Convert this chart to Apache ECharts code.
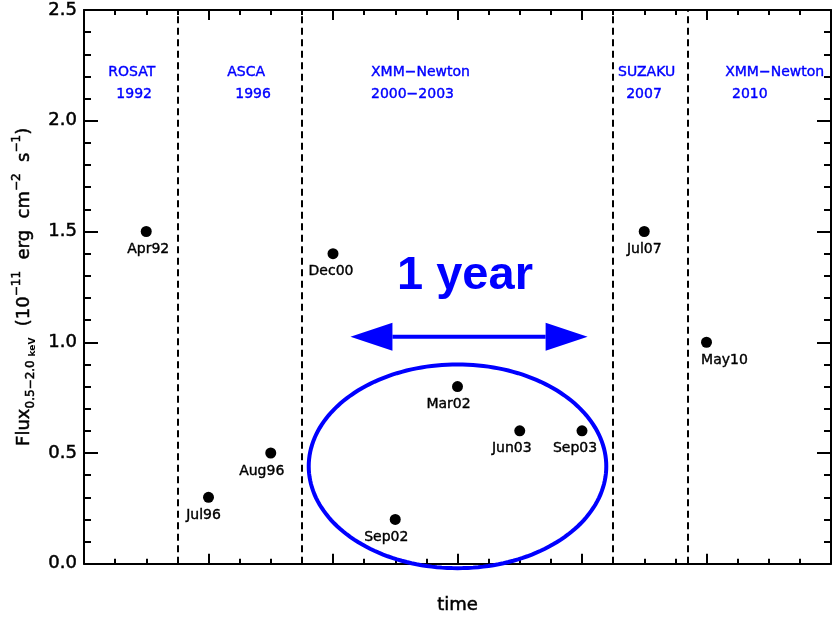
<!DOCTYPE html>
<html>
<head>
<meta charset="utf-8">
<script src="https://cdn.jsdelivr.net/npm/echarts@6/dist/echarts.min.js"></script>
<style>
html,body{margin:0;padding:0;background:#fff;}
#chart{width:832px;height:620px;}
</style>
</head>
<body>
<div id="chart"></div>
<script>
// ---- data ----
var epochs = ['Apr92','Jul96','Aug96','Dec00','Sep02','Mar02','Jun03','Sep03','Jul07','May10'];
var obsPos = [1,2,3,4,5,6,7,8,9,10];
var flux   = [1.5,0.3,0.5,1.4,0.2,0.8,0.6,0.6,1.5,1.0];
var missionBounds = [1.5,3.5,8.5,9.7];
var missionText = ['ROSAT','1992','ASCA','1996','XMM\u2212Newton','2000\u22122003','SUZAKU','2007','XMM\u2212Newton','2010'];
var missionX    = [0.39,0.52,2.30,2.43,4.61,4.61,8.58,8.71,10.30,10.41];
var missionY    = [2.22,2.12,2.22,2.12,2.22,2.12,2.22,2.12,2.22,2.12];
var ellipseCenter = [6.0,0.44];
var ellipseRadii  = [2.39,0.46];
var arrowFrom = [4.28,1.025];
var arrowTo   = [8.09,1.025];
var yearLabelPos = [6.12,1.30];
var yearLabel = '1 year';
var xTicks = {min:0,max:12,interval:2};
var yTicks = {min:0,max:2.5,interval:0.5};

// ---- styles (not data) ----
var labelDx = [2,-5,-9,-2,-9,-9,-8,-7,0,18];
var BLUE = '#0000ff';
var FONT = 'DejaVu Sans';

var chart = echarts.init(document.getElementById('chart'), null, {renderer:'canvas'});

function xAx(pos, withName){
  var a = {
    type:'value', position:pos, min:xTicks.min, max:xTicks.max, interval:xTicks.interval,
    axisLine:{show:true,onZero:false,lineStyle:{color:'#000',width:2}},
    axisTick:{show:true,inside:true,length:10,lineStyle:{color:'#000',width:2}},
    minorTick:{show:true,splitNumber:4,length:5,lineStyle:{color:'#000',width:2}},
    axisLabel:{show:false}, splitLine:{show:false}, minorSplitLine:{show:false}
  };
  if(withName){
    a.name='time'; a.nameLocation='middle'; a.nameGap=33;
    a.nameTextStyle={fontFamily:FONT,fontSize:18,color:'#000',textBorderColor:'#000',textBorderWidth:0.5};
  }
  return a;
}
function yAx(pos, withLabels){
  var a = {
    type:'value', position:pos, min:yTicks.min, max:yTicks.max, interval:yTicks.interval,
    axisLine:{show:true,onZero:false,lineStyle:{color:'#000',width:2}},
    axisTick:{show:true,inside:true,length:14,lineStyle:{color:'#000',width:2}},
    minorTick:{show:true,splitNumber:5,length:7,lineStyle:{color:'#000',width:2}},
    axisLabel:{show:withLabels,fontFamily:FONT,fontSize:18,color:'#000',margin:7,
      textBorderColor:'#000',textBorderWidth:0.5,
      formatter:function(v){return v.toFixed(1);}},
    splitLine:{show:false}, minorSplitLine:{show:false}
  };
  if(withLabels){
    a.name='{a|Flux}{s|0.5\u22122.0 }{k|keV}{a|  (10}{p|\u221211}{a|  erg  cm}{p|\u22122}{a|  s}{p|\u22121}{a|)}';
    a.nameLocation='middle'; a.nameGap=44; a.nameRotate=90;
    var tb={textBorderColor:'#000',textBorderWidth:0.5};
    a.nameTextStyle={fontFamily:FONT,color:'#000',
      rich:{
        a:Object.assign({fontFamily:FONT,fontSize:18,lineHeight:26,verticalAlign:'middle',color:'#000'},tb),
        s:Object.assign({fontFamily:FONT,fontSize:12,lineHeight:12,verticalAlign:'bottom',color:'#000'},tb),
        k:{fontFamily:FONT,fontSize:9,fontWeight:'bold',lineHeight:11,verticalAlign:'bottom',color:'#000'},
        p:Object.assign({fontFamily:FONT,fontSize:12,lineHeight:12,verticalAlign:'top',color:'#000'},tb)
      }};
  }
  return a;
}

var pointData = epochs.map(function(e,i){
  return {value:[obsPos[i],flux[i]],name:e,
    label:{offset:[labelDx[i],18]}};
});
var missionData = missionText.map(function(t,i){return {value:[missionX[i],missionY[i]],name:t};});

var option = {
  animation:false,
  backgroundColor:'#fff',
  grid:{left:84,right:1,top:10,bottom:54,containLabel:false},
  xAxis:[xAx('bottom',true), xAx('top',false)],
  yAxis:[yAx('left',true), yAx('right',false)],
  series:[
    {
      type:'custom', xAxisIndex:0, yAxisIndex:0, z:3, silent:true,
      data:[[ellipseCenter[0],ellipseCenter[1],ellipseRadii[0],ellipseRadii[1]]],
      renderItem:function(params,api){
        var cx=api.value(0), cy=api.value(1), rx=api.value(2), ry=api.value(3);
        var pts=[];
        for(var k=0;k<=180;k++){
          var t=k/180*Math.PI*2;
          pts.push(api.coord([cx+rx*Math.cos(t), cy+ry*Math.sin(t)]));
        }
        return {type:'polygon',shape:{points:pts},style:{fill:null,stroke:BLUE,lineWidth:4}};
      }
    },
    {
      type:'custom', xAxisIndex:0, yAxisIndex:0, z:3, silent:true,
      data:[[arrowFrom[0],arrowFrom[1],arrowTo[0],arrowTo[1]]],
      renderItem:function(params,api){
        var p1=api.coord([api.value(0),api.value(1)]);
        var p2=api.coord([api.value(2),api.value(3)]);
        var hl=42, hw=14;
        return {type:'group',children:[
          {type:'line',shape:{x1:p1[0]+hl,y1:p1[1],x2:p2[0]-hl,y2:p2[1]},style:{stroke:BLUE,lineWidth:4}},
          {type:'polygon',shape:{points:[[p1[0],p1[1]],[p1[0]+hl,p1[1]-hw],[p1[0]+hl,p1[1]+hw]]},style:{fill:BLUE}},
          {type:'polygon',shape:{points:[[p2[0],p2[1]],[p2[0]-hl,p2[1]-hw],[p2[0]-hl,p2[1]+hw]]},style:{fill:BLUE}}
        ]};
      }
    },
    {
      type:'scatter', xAxisIndex:0, yAxisIndex:0, z:4, silent:true,
      symbolSize:0, itemStyle:{opacity:1},
      data:[{value:yearLabelPos,name:yearLabel}],
      label:{show:true,position:'inside',formatter:'{b}',
        fontFamily:'Liberation Sans',fontWeight:'bold',fontSize:47,color:BLUE}
    },
    {
      type:'scatter', xAxisIndex:0, yAxisIndex:0, z:4, silent:true,
      symbolSize:0, itemStyle:{opacity:1},
      data:missionData,
      label:{show:true,position:'right',distance:0,formatter:'{b}',
        fontFamily:FONT,fontSize:14,color:BLUE,textBorderColor:BLUE,textBorderWidth:0.4}
    },
    {
      type:'scatter', xAxisIndex:0, yAxisIndex:0, z:5, silent:true,
      symbol:'circle', symbolSize:11,
      itemStyle:{color:'#000',opacity:1},
      data:pointData,
      label:{show:true,position:'inside',formatter:'{b}',
        fontFamily:FONT,fontSize:14,color:'#000',textBorderColor:'#000',textBorderWidth:0.4},
      markLine:{
        silent:true, symbol:['none','none'], label:{show:false},
        lineStyle:{color:'#000',width:2,type:[7,4.5],opacity:1},
        data:missionBounds.map(function(v){return {xAxis:v};})
      }
    }
  ]
};
chart.setOption(option);
</script>
</body>
</html>
